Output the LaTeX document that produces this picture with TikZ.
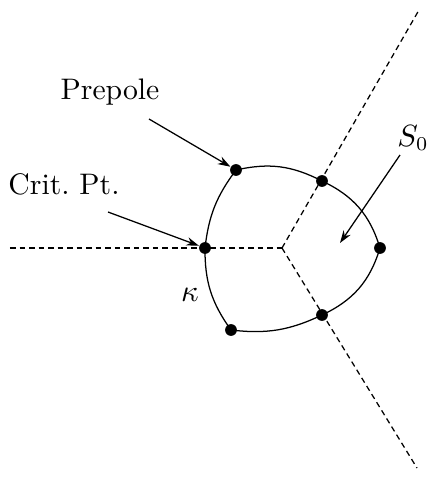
\documentclass[tikz,border=0pt]{standalone}
\usetikzlibrary{arrows.meta}
\begin{document}
\begin{tikzpicture}[x=0.357pt,y=-0.357pt,
  dot/.style={circle,fill=black,inner sep=0pt,minimum size=4.2pt},
  ray/.style={line width=0.45pt,dash pattern=on 2pt off 1.4pt},
  rim/.style={line width=0.45pt},
  pointer/.style={line width=0.45pt,-{Stealth[length=4.5pt,width=3pt]}},
  lab/.style={inner sep=0pt,font=\fontsize{10.6}{12}\selectfont}]
\useasboundingbox (0,0) rectangle (428,485);
\coordinate (c) at (282,248);
\coordinate (L) at (10,248);
\coordinate (U) at (419,10);
\coordinate (D) at (417,468);
\node[dot] (p1) at (205,248) {};
\node[dot] (p2) at (236,170) {};
\node[dot] (p3) at (322,181) {};
\node[dot] (p4) at (380,248) {};
\node[dot] (p5) at (322,315) {};
\node[dot] (p6) at (231,330) {};
\draw[ray] (L) -- (c);
\draw[ray] (c) -- (U);
\draw[ray] (c) -- (D);
\draw[rim] (p1.center) to[bend left=15] (p2.center)
  to[bend left=20] (p3.center)
  to[bend left=24] (p4.center)
  to[bend left=24] (p5.center)
  to[bend left=16] (p6.center)
  to[bend left=18] (p1.center);
\node[lab] (prepole) at (110,92) {Prepole};
\node[lab] (crit) at (64,184) {Crit.\ Pt.};
\node[lab] (s0) at (413,138) {$S_0$};
\node[lab] (kappa) at (190,295) {$\kappa$};
\coordinate (a1) at (149,119);
\coordinate (a2) at (108,212);
\coordinate (a3) at (400,155);
\coordinate (b3) at (340,243);
\draw[pointer] (a1) -- (p2);
\draw[pointer] (a2) -- (p1);
\draw[pointer] (a3) -- (b3);
\end{tikzpicture}
\end{document}
